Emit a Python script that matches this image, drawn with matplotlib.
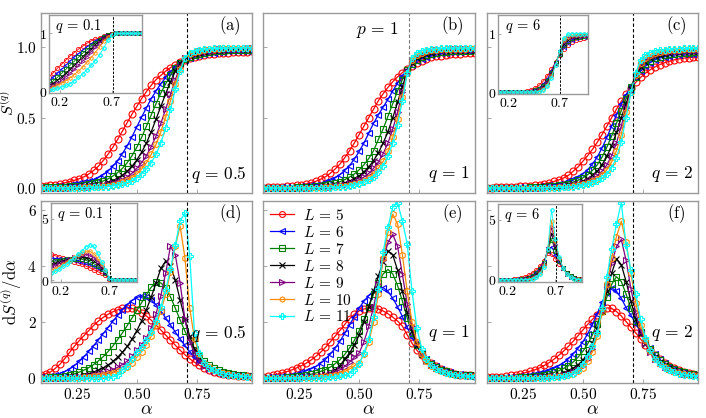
import numpy as np
import matplotlib.pyplot as plt

plt.rcParams['mathtext.fontset'] = 'cm'
plt.rcParams['font.family'] = 'serif'

# grille en alpha (panneaux principaux et encarts)
alpha = [0.10, 0.12, 0.14, 0.16, 0.18, 0.20, 0.22, 0.24, 0.26, 0.28,
         0.30, 0.32, 0.34, 0.36, 0.38, 0.40, 0.42, 0.44, 0.46, 0.48,
         0.50, 0.52, 0.54, 0.56, 0.58, 0.60, 0.62, 0.64, 0.66, 0.68,
         0.70, 0.72, 0.74, 0.76, 0.78, 0.80, 0.82, 0.84, 0.86, 0.88,
         0.90, 0.92, 0.94, 0.96, 0.98]
alpha_in = [0.10, 0.14, 0.18, 0.22, 0.26, 0.30, 0.34, 0.38, 0.42, 0.46, 0.50, 0.54,
            0.58, 0.62, 0.66, 0.70, 0.74, 0.78, 0.82, 0.86, 0.90, 0.94, 0.98]

sizes = [5, 6, 7, 8, 9, 10, 11]
colors = ['red', 'blue', 'green', 'black', 'purple', 'darkorange', 'cyan']
markers = ['o', '<', 's', 'x', '>', 'h', 'P']

# S^(q), q = 0.5  (panneau a)
s_q05 = [
    [.015, .017, .02, .025, .03, .037, .045, .055, .066, .08, .10, .125, .155, .195, .24,
     .29, .345, .405, .465, .525, .58, .635, .685, .73, .77, .80, .83, .855, .875, .895,
     .91, .92, .93, .938, .945, .95, .954, .957, .96, .962, .964, .966, .967, .968, .97],
    [.008, .009, .01, .012, .015, .018, .022, .027, .033, .04, .05, .06, .075, .095, .12,
     .155, .195, .245, .30, .365, .435, .505, .57, .635, .69, .74, .785, .825, .86, .89,
     .91, .925, .937, .946, .953, .958, .962, .965, .968, .97, .972, .973, .974, .975, .976],
    [.004, .005, .006, .007, .008, .01, .012, .015, .018, .022, .027, .033, .04, .05, .065,
     .085, .11, .14, .18, .23, .29, .36, .44, .52, .60, .675, .74, .80, .85, .89,
     .915, .932, .945, .954, .961, .966, .97, .973, .975, .977, .978, .979, .98, .981, .982],
    [.002, .002, .003, .003, .004, .005, .006, .008, .01, .012, .015, .019, .024, .03, .04,
     .052, .068, .09, .12, .155, .20, .255, .32, .40, .49, .58, .67, .755, .83, .885,
     .918, .938, .952, .962, .969, .974, .977, .98, .982, .983, .984, .985, .986, .986, .987],
    [.001, .001, .002, .002, .002, .003, .004, .005, .006, .008, .01, .012, .015, .02, .026,
     .034, .045, .06, .08, .105, .14, .18, .23, .295, .37, .46, .56, .665, .77, .86,
     .92, .945, .96, .97, .976, .98, .983, .985, .987, .988, .989, .99, .99, .991, .991],
    [0, 0, .001, .001, .001, .002, .002, .003, .004, .005, .006, .008, .01, .013, .017,
     .022, .03, .04, .055, .075, .10, .135, .18, .24, .31, .40, .505, .62, .74, .845,
     .922, .952, .966, .975, .981, .985, .988, .99, .991, .992, .993, .993, .994, .994, .994],
    [0, 0, 0, 0, .001, .001, .001, .002, .002, .003, .004, .005, .006, .008, .011,
     .015, .02, .028, .038, .052, .072, .10, .135, .18, .24, .32, .43, .56, .70, .83,
     .925, .96, .973, .981, .986, .989, .991, .992, .993, .994, .995, .995, .995, .996, .996],
]

# S^(q), q = 1  (panneau b)
s_q1 = [
    [.004, .005, .006, .008, .01, .012, .015, .019, .024, .03, .038, .048, .063, .08, .105,
     .135, .17, .215, .265, .32, .38, .44, .50, .56, .62, .67, .715, .755, .79, .82,
     .845, .87, .89, .905, .917, .927, .935, .941, .946, .95, .953, .955, .957, .958, .959],
    [.002, .002, .003, .004, .005, .006, .008, .01, .012, .015, .019, .024, .03, .042, .055,
     .072, .095, .125, .16, .205, .26, .32, .39, .46, .52, .575, .63, .69, .745, .795,
     .84, .875, .90, .918, .932, .942, .95, .956, .96, .963, .966, .968, .97, .971, .972],
    [.001, .001, .002, .002, .003, .003, .004, .005, .006, .008, .01, .013, .016, .021, .027,
     .035, .045, .06, .078, .10, .13, .165, .21, .265, .345, .42, .51, .60, .69, .77,
     .835, .88, .91, .93, .944, .953, .96, .965, .968, .971, .973, .974, .975, .976, .977],
    [0, 0, .001, .001, .001, .002, .002, .003, .004, .005, .006, .008, .01, .013, .017,
     .022, .029, .038, .05, .066, .087, .115, .15, .195, .25, .32, .40, .50, .61, .72,
     .83, .89, .92, .94, .953, .962, .968, .972, .975, .977, .979, .98, .981, .982, .983],
    [0, 0, 0, .001, .001, .001, .001, .002, .002, .003, .004, .005, .006, .008, .011,
     .014, .019, .025, .033, .044, .058, .078, .104, .14, .185, .245, .32, .42, .54, .68,
     .825, .90, .935, .953, .965, .972, .977, .98, .983, .985, .986, .987, .988, .988, .989],
    [0, 0, 0, 0, 0, .001, .001, .001, .001, .002, .002, .003, .004, .005, .007,
     .009, .012, .016, .021, .028, .038, .052, .072, .10, .14, .19, .26, .36, .49, .65,
     .82, .91, .945, .962, .972, .978, .982, .985, .987, .988, .989, .99, .99, .991, .991],
    [0, 0, 0, 0, 0, 0, 0, .001, .001, .001, .001, .002, .002, .003, .004,
     .005, .007, .01, .014, .02, .028, .04, .056, .08, .115, .16, .225, .32, .45, .62,
     .815, .925, .96, .975, .983, .987, .99, .991, .992, .993, .994, .994, .995, .995, .995],
]

# S^(q), q = 2  (panneau c)
s_q2 = [
    [.003, .004, .005, .006, .007, .008, .01, .012, .014, .017, .02, .025, .031, .038, .047,
     .058, .072, .09, .12, .15, .19, .23, .275, .325, .38, .44, .50, .56, .615, .665,
     .71, .75, .785, .815, .84, .86, .877, .89, .90, .91, .917, .922, .926, .929, .931],
    [.001, .001, .002, .002, .003, .003, .004, .005, .006, .008, .01, .012, .015, .019, .024,
     .03, .038, .048, .062, .08, .10, .13, .17, .22, .285, .36, .44, .52, .595, .66,
     .725, .785, .83, .865, .89, .91, .923, .932, .939, .944, .948, .951, .953, .955, .956],
    [0, 0, .001, .001, .001, .002, .002, .003, .004, .005, .006, .008, .01, .012, .015,
     .02, .025, .032, .042, .055, .072, .095, .125, .165, .22, .29, .37, .46, .55, .635,
     .715, .79, .845, .88, .905, .922, .934, .943, .949, .954, .957, .96, .962, .963, .964],
    [0, 0, 0, .001, .001, .001, .001, .002, .002, .003, .004, .005, .006, .008, .01,
     .013, .017, .022, .029, .038, .05, .067, .09, .12, .165, .225, .30, .395, .50, .60,
     .70, .795, .86, .895, .92, .936, .947, .955, .961, .965, .968, .97, .972, .973, .974],
    [0, 0, 0, 0, 0, .001, .001, .001, .001, .002, .002, .003, .004, .005, .007,
     .009, .012, .015, .02, .027, .036, .048, .065, .088, .12, .165, .23, .32, .44, .57,
     .69, .80, .875, .91, .932, .947, .957, .964, .969, .973, .976, .978, .979, .98, .981],
    [0, 0, 0, 0, 0, 0, 0, .001, .001, .001, .001, .002, .002, .003, .004,
     .006, .008, .01, .014, .019, .026, .035, .048, .066, .092, .13, .185, .265, .38, .54,
     .685, .805, .89, .925, .945, .958, .967, .973, .977, .98, .983, .985, .986, .987, .987],
    [0, 0, 0, 0, 0, 0, 0, 0, 0, .001, .001, .001, .002, .002, .003,
     .004, .005, .007, .01, .014, .019, .026, .036, .05, .07, .10, .145, .215, .33, .50,
     .68, .815, .91, .945, .962, .972, .979, .983, .986, .988, .99, .991, .992, .992, .993],
]

# dS^(q)/dalpha, q = 0.5  (panneau d)
ds_q05 = [
    [.12, .16, .22, .35, .5, .7, .92, 1.14, 1.34, 1.52, 1.7, 1.88, 2.04, 2.17, 2.28,
     2.37, 2.44, 2.49, 2.51, 2.49, 2.43, 2.34, 2.22, 2.07, 1.9, 1.72, 1.54, 1.36, 1.18, 1.0,
     .84, .7, .57, .46, .37, .3, .24, .2, .16, .13, .11, .09, .08, .07, .06],
    [.05, .06, .08, .12, .17, .24, .33, .45, .6, .77, .96, 1.16, 1.37, 1.59, 1.81,
     2.03, 2.24, 2.44, 2.62, 2.77, 2.88, 2.93, 2.9, 2.8, 2.62, 2.4, 2.15, 1.9, 1.65, 1.4,
     1.17, .95, .76, .6, .47, .37, .29, .23, .18, .15, .12, .1, .09, .08, .07],
    [.02, .025, .03, .04, .06, .085, .12, .16, .22, .29, .38, .49, .62, .77, .95,
     1.15, 1.38, 1.62, 1.88, 2.15, 2.42, 2.7, 2.98, 3.25, 3.42, 3.4, 3.22, 2.9, 2.5, 2.08,
     1.68, 1.32, 1.02, .78, .6, .46, .36, .28, .22, .18, .14, .12, .1, .09, .08],
    [.01, .012, .015, .02, .028, .038, .052, .07, .095, .13, .17, .22, .29, .37, .47,
     .6, .75, .93, 1.14, 1.4, 1.7, 2.05, 2.45, 2.9, 3.4, 3.92, 4.18, 4.0, 3.5, 2.8,
     2.1, 1.5, 1.05, .75, .54, .4, .31, .24, .19, .15, .12, .1, .09, .08, .07],
    [.005, .006, .008, .01, .014, .019, .026, .035, .047, .063, .085, .11, .145, .19, .245,
     .31, .39, .49, .61, .78, 1.0, 1.2, 1.45, 1.8, 2.3, 2.95, 3.75, 4.71, 4.4, 3.4,
     2.1, 1.3, .9, .62, .45, .34, .27, .21, .17, .14, .12, .1, .09, .08, .07],
    [.003, .004, .005, .006, .008, .011, .015, .02, .027, .036, .048, .064, .085, .11, .145,
     .19, .245, .31, .4, .55, .75, .95, 1.2, 1.5, 1.9, 2.4, 3.0, 3.8, 4.7, 5.43,
     4.3, 2.5, 1.4, .85, .56, .4, .3, .23, .18, .14, .11, .09, .08, .07, .06],
    [0, 0, 0, 0, 0, .001, .002, .003, .005, .007, .01, .014, .02, .028, .04,
     .06, .1, .3, .45, .7, .92, 1.12, 1.35, 1.65, 2.05, 2.55, 3.15, 3.9, 4.75, 5.6,
     5.9, 4.36, 1.6, .9, .55, .38, .28, .21, .16, .13, .1, .08, .07, .06, .05],
]

# dS^(q)/dalpha, q = 1  (panneau e)
ds_q1 = [
    [.06, .08, .11, .15, .19, .24, .3, .37, .45, .54, .65, .78, .93, 1.1, 1.3,
     1.5, 1.7, 1.92, 2.12, 2.28, 2.4, 2.47, 2.51, 2.51, 2.47, 2.4, 2.3, 2.18, 2.04, 1.86,
     1.55, 1.25, 1.0, .82, .66, .53, .43, .34, .27, .21, .16, .13, .11, .1, .09],
    [.02, .03, .04, .05, .07, .09, .12, .16, .21, .27, .34, .42, .54, .68, .86,
     1.07, 1.32, 1.6, 1.9, 2.2, 2.5, 2.75, 2.95, 3.12, 3.2, 3.23, 3.1, 2.85, 2.55, 2.2,
     1.82, 1.46, 1.15, .9, .7, .55, .43, .34, .27, .21, .17, .14, .12, .1, .09],
    [.01, .012, .015, .02, .027, .036, .048, .064, .085, .11, .145, .19, .245, .31, .4,
     .52, .66, .85, 1.08, 1.35, 1.7, 2.1, 2.55, 3.0, 3.4, 3.72, 3.88, 3.72, 3.3, 2.75,
     2.15, 1.6, 1.18, .88, .66, .5, .39, .31, .25, .2, .16, .13, .11, .1, .09],
    [.005, .006, .008, .01, .013, .017, .022, .029, .038, .05, .066, .087, .115, .15, .2,
     .3, .45, .68, .9, 1.18, 1.55, 2.0, 2.55, 3.1, 3.65, 4.15, 4.54, 4.4, 3.85, 3.1,
     2.35, 1.7, 1.2, .86, .63, .47, .36, .28, .23, .19, .15, .13, .11, .1, .09],
    [.003, .004, .005, .007, .009, .012, .016, .021, .028, .037, .05, .066, .088, .12, .16,
     .22, .3, .42, .58, .75, .9, 1.3, 1.85, 2.55, 3.35, 4.2, 4.85, 5.13, 4.7, 3.7,
     2.65, 1.85, 1.28, .9, .64, .47, .36, .28, .22, .18, .14, .12, .1, .09, .08],
    [.002, .002, .003, .004, .005, .007, .009, .012, .016, .021, .028, .037, .05, .068, .092,
     .125, .17, .24, .33, .44, .55, .85, 1.3, 2.0, 3.0, 4.3, 5.2, 5.85, 5.5, 4.4,
     3.1, 2.0, 1.3, .88, .61, .44, .33, .26, .2, .16, .13, .11, .09, .08, .07],
    [0, 0, .001, .001, .002, .002, .003, .004, .005, .007, .01, .013, .018, .025, .035,
     .05, .075, .11, .17, .3, .5, .9, 1.4, 2.2, 3.2, 4.5, 5.4, 6.1, 6.26, 5.6,
     4.8, 3.1, 1.8, 1.05, .68, .46, .33, .25, .19, .15, .12, .1, .08, .07, .06],
]

# dS^(q)/dalpha, q = 2  (panneau f)
ds_q2 = [
    [.03, .04, .05, .06, .08, .1, .12, .15, .2, .25, .3, .37, .46, .56, .68,
     .82, .97, 1.14, 1.32, 1.52, 1.72, 1.92, 2.1, 2.27, 2.42, 2.51, 2.49, 2.38, 2.22, 2.02,
     1.82, 1.62, 1.4, 1.2, 1.0, .82, .67, .54, .44, .35, .28, .22, .18, .15, .12],
    [.01, .015, .02, .025, .03, .04, .05, .065, .085, .11, .14, .18, .23, .29, .36,
     .45, .56, .7, .87, 1.07, 1.3, 1.58, 1.92, 2.3, 2.72, 3.05, 3.23, 3.1, 2.85, 2.52,
     2.25, 1.95, 1.65, 1.35, 1.08, .85, .67, .53, .42, .33, .26, .21, .17, .14, .12],
    [.005, .007, .009, .012, .015, .02, .026, .034, .044, .057, .074, .096, .125, .16, .21,
     .27, .35, .45, .58, .75, .96, 1.22, 1.55, 1.95, 2.4, 2.9, 3.35, 3.62, 3.45, 3.0,
     2.5, 2.05, 1.65, 1.3, 1.03, .82, .65, .52, .41, .33, .26, .21, .17, .14, .12],
    [.003, .004, .005, .006, .008, .01, .013, .017, .022, .029, .038, .05, .066, .087, .115,
     .15, .2, .27, .36, .48, .64, .9, 1.25, 1.75, 2.4, 3.1, 3.75, 4.26, 4.05, 3.45,
     2.75, 2.12, 1.62, 1.24, .96, .75, .59, .47, .37, .3, .24, .2, .16, .13, .11],
    [.002, .002, .003, .004, .005, .006, .008, .01, .013, .017, .022, .029, .038, .05, .066,
     .087, .115, .155, .21, .3, .45, .7, 1.05, 1.6, 2.4, 3.3, 4.1, 4.7, 4.95, 4.2,
     3.2, 2.35, 1.7, 1.25, .92, .7, .54, .42, .33, .26, .21, .17, .14, .12, .1],
    [.001, .001, .002, .002, .003, .004, .005, .006, .008, .011, .015, .02, .027, .036, .05,
     .068, .092, .125, .17, .25, .38, .6, .95, 1.5, 2.35, 3.35, 4.3, 5.05, 5.6, 4.85,
     3.75, 2.7, 1.9, 1.35, .96, .7, .52, .4, .31, .24, .19, .15, .12, .1, .08],
    [0, 0, 0, .001, .001, .002, .002, .003, .004, .006, .008, .011, .015, .021, .03,
     .045, .07, .11, .17, .3, .5, .8, 1.15, 1.6, 2.5, 3.6, 4.6, 5.5, 6.26, 4.75,
     3.85, 3.0, 2.1, 1.45, 1.0, .7, .5, .37, .28, .21, .16, .12, .1, .08, .06],
]

# encarts : S^(q) pour q = 0.1 et q = 6
s_q01_in = [
    [.25, .32, .40, .47, .54, .61, .67, .73, .78, .83, .87, .90, .93, .955, .975, .99, 1, 1, 1, 1, 1, 1, 1],
    [.18, .24, .31, .38, .45, .52, .59, .65, .71, .77, .82, .87, .91, .95, .975, .99, 1, 1, 1, 1, 1, 1, 1],
    [.13, .18, .24, .31, .38, .45, .52, .59, .66, .72, .78, .84, .89, .94, .97, .99, 1, 1, 1, 1, 1, 1, 1],
    [.10, .14, .19, .25, .31, .38, .45, .52, .60, .67, .74, .81, .87, .93, .97, .99, 1, 1, 1, 1, 1, 1, 1],
    [.07, .10, .14, .19, .25, .31, .38, .45, .52, .60, .68, .76, .84, .91, .96, .99, 1, 1, 1, 1, 1, 1, 1],
    [.04, .07, .10, .14, .18, .23, .29, .35, .42, .50, .58, .67, .77, .87, .94, .99, 1, 1, 1, 1, 1, 1, 1],
    [.02, .035, .05, .07, .10, .13, .18, .24, .30, .37, .45, .53, .63, .75, .88, .98, 1, 1, 1, 1, 1, 1, 1],
]
s_q6_in = [
    [0, 0, 0, 0, 0, .005, .01, .02, .04, .07, .12, .19, .28, .39, .52, .64, .74, .81, .86, .89, .91, .93, .94],
    [0, 0, 0, 0, 0, 0, .005, .01, .02, .04, .08, .14, .23, .36, .51, .65, .77, .85, .89, .92, .94, .95, .95],
    [0, 0, 0, 0, 0, 0, 0, .005, .01, .03, .06, .11, .20, .33, .50, .66, .80, .88, .92, .94, .95, .96, .96],
    [0, 0, 0, 0, 0, 0, 0, 0, .005, .02, .04, .09, .17, .31, .49, .67, .83, .90, .94, .95, .96, .97, .97],
    [0, 0, 0, 0, 0, 0, 0, 0, 0, .01, .03, .07, .15, .29, .48, .68, .86, .93, .95, .96, .97, .98, .98],
    [0, 0, 0, 0, 0, 0, 0, 0, 0, .005, .02, .05, .13, .27, .47, .69, .89, .95, .97, .98, .98, .99, .99],
    [0, 0, 0, 0, 0, 0, 0, 0, 0, 0, .01, .04, .11, .25, .46, .70, .92, .99, 1, 1, 1, 1, 1],
]
# encarts : dS^(q)/dalpha pour q = 0.1 et q = 6
ds_q01_in = [
    [2.1, 2.0, 1.9, 1.8, 1.7, 1.6, 1.5, 1.4, 1.28, 1.15, 1.0, .85, .7, .55, .4, .1, 0, 0, 0, 0, 0, 0, 0],
    [1.75, 1.75, 1.75, 1.75, 1.72, 1.7, 1.66, 1.6, 1.52, 1.42, 1.3, 1.15, .98, .8, .55, .15, 0, 0, 0, 0, 0, 0, 0],
    [1.5, 1.55, 1.6, 1.65, 1.7, 1.72, 1.74, 1.74, 1.7, 1.62, 1.5, 1.35, 1.15, .92, .62, .15, 0, 0, 0, 0, 0, 0, 0],
    [1.3, 1.38, 1.47, 1.55, 1.63, 1.72, 1.8, 1.86, 1.88, 1.85, 1.75, 1.57, 1.32, 1.02, .68, .15, 0, 0, 0, 0, 0, 0, 0],
    [1.1, 1.2, 1.32, 1.45, 1.58, 1.72, 1.86, 1.98, 2.07, 2.1, 2.02, 1.82, 1.52, 1.15, .72, .15, 0, 0, 0, 0, 0, 0, 0],
    [.8, .95, 1.1, 1.28, 1.46, 1.66, 1.86, 2.06, 2.24, 2.36, 2.36, 2.16, 1.78, 1.3, .8, .15, 0, 0, 0, 0, 0, 0, 0],
    [.6, .75, .92, 1.12, 1.34, 1.58, 1.84, 2.1, 2.4, 2.7, 2.9, 2.75, 2.2, 1.5, .85, .15, 0, 0, 0, 0, 0, 0, 0],
]
ds_q6_in = [
    [0, 0, .01, .02, .04, .08, .14, .24, .38, .57, .82, 1.15, 1.6, 2.2, 2.15, 1.75, 1.35, .95, .6, .35, .18, .08, .04],
    [0, 0, 0, .01, .02, .04, .08, .15, .26, .42, .66, 1.0, 1.5, 2.4, 2.75, 2.1, 1.5, .98, .58, .32, .16, .07, .03],
    [0, 0, 0, 0, .01, .02, .05, .1, .18, .32, .54, .88, 1.42, 2.5, 3.35, 2.4, 1.6, 1.0, .56, .3, .14, .06, .02],
    [0, 0, 0, 0, 0, .01, .03, .06, .12, .24, .44, .78, 1.35, 2.55, 3.85, 2.7, 1.7, 1.0, .54, .28, .13, .05, .02],
    [0, 0, 0, 0, 0, 0, .02, .04, .08, .18, .36, .68, 1.28, 2.6, 4.35, 3.0, 1.78, 1.0, .52, .26, .12, .05, .02],
    [0, 0, 0, 0, 0, 0, .01, .02, .05, .13, .28, .58, 1.2, 2.6, 4.9, 3.2, 1.85, 1.0, .5, .24, .1, .04, .01],
    [0, 0, 0, 0, 0, 0, 0, .01, .03, .09, .22, .5, 1.1, 2.6, 5.8, 3.4, 1.9, 1.0, .48, .22, .09, .03, .01],
]

alpha_c = 1 / np.sqrt(2)
gris = '#9a9a9a'


def box(x0, y0, x1, y1):
    # rectangle en pixels -> coordonnees figure
    return [x0 / 706, 1 - y1 / 418, (x1 - x0) / 706, (y1 - y0) / 418]


def style(ax, size=11, pad=3, length=3):
    for sp in ax.spines.values():
        sp.set_color(gris)
        sp.set_linewidth(1.0)
    ax.tick_params(direction='in', length=length, width=0.6, color=gris,
                   labelsize=size, pad=pad)


def courbes(ax, x, data, ms, lw, mew):
    for L, c, m, y in zip(sizes, colors, markers, data):
        assert len(y) == len(x)
        k = 0.9 if m == 'h' else 1.0
        ax.plot(x, y, color=c, marker=m, ms=ms * k, mfc='none', mew=mew, lw=lw,
                label=r'$L\,=\,%d$' % L)


fig = plt.figure(figsize=(7.06, 4.18), dpi=100)

lefts = [40.7, 263.0, 486.7]
rows = [(12.7, 193.0), (200.7, 382.5)]
main_data = [[s_q05, s_q1, s_q2], [ds_q05, ds_q1, ds_q2]]
tags = [['(a)', '(b)', '(c)'], ['(d)', '(e)', '(f)']]
qs = ['0.5', '1', '2']

axes = {}
for r, (y0, y1) in enumerate(rows):
    for c, x0 in enumerate(lefts):
        ax = fig.add_axes(box(x0, y0, x0 + 211.5, y1))
        courbes(ax, alpha, main_data[r][c], ms=5, lw=0.9, mew=0.8)
        ax.axvline(alpha_c, color='k' if c != 1 else '#777777', ls='--', lw=0.8, dashes=(3, 2))
        ax.set_xlim(0.1, 0.98)
        style(ax)
        if r == 0:
            ax.set_ylim(-0.035, 1.245)
            ax.set_yticks([0, 0.5, 1.0], ['$0.0$', '$0.5$', '$1.0$'] if c == 0 else [])
            ax.set_xticks([0.25, 0.5, 0.75], [])
            ax.text(0.975, 0.105, r'$q\,=\,%s$' % qs[c], transform=ax.transAxes,
                    ha='right', va='center', fontsize=12.5)
        else:
            ax.set_ylim(-0.15, 6.33)
            ax.set_yticks([0, 2, 4, 6], ['$0$', '$2$', '$4$', '$6$'] if c == 0 else [])
            ax.set_xticks([0.25, 0.5, 0.75], ['$0.25$', '$0.50$', '$0.75$'])
            ax.set_xlabel(r'$\alpha$', fontsize=13, labelpad=-1)
            ax.text(0.975, 0.27, r'$q\,=\,%s$' % qs[c], transform=ax.transAxes,
                    ha='right', va='center', fontsize=12.5)
        ax.text(0.895, 0.93, r'$\mathrm{%s}$' % tags[r][c], transform=ax.transAxes,
                ha='center', va='center', fontsize=12)
        axes[(r, c)] = ax

axes[(0, 0)].set_ylabel(r'$S^{(q)}$', fontsize=11.5)
axes[(0, 0)].yaxis.set_label_coords(-0.105, 0.5)
axes[(1, 0)].set_ylabel(r'$\mathrm{d}S^{(q)}/\mathrm{d}\alpha$', fontsize=12)
axes[(1, 0)].yaxis.set_label_coords(-0.078, 0.5)
axes[(0, 1)].text(0.54, 0.905, r'$p\,=\,1$', transform=axes[(0, 1)].transAxes,
                  ha='center', va='center', fontsize=12.5)

axes[(1, 1)].legend(loc='upper left', bbox_to_anchor=(0.0, 1.0), frameon=False,
                    fontsize=11, handlelength=1.6, handletextpad=0.6,
                    labelspacing=0.13, borderaxespad=0.25, borderpad=0.2,
                    markerscale=0.85)

# encarts
insets = [
    (box(49, 15, 141.7, 93), s_q01_in, '0.1', (-0.03, 1.32), [0, 1]),
    (box(498.3, 15, 588.3, 94), s_q6_in, '6', (-0.03, 1.32), [0, 1]),
    (box(51, 203, 136.5, 282), ds_q01_in, '0.1', (-0.15, 6.3), [0, 5]),
    (box(498.3, 204, 582, 281.7), ds_q6_in, '6', (-0.15, 6.3), [0, 5]),
]
for rect, data, q, ylim, yt in insets:
    axi = fig.add_axes(rect)
    axi.set_facecolor('white')
    courbes(axi, alpha_in, data, ms=3, lw=0.6, mew=0.6)
    axi.axvline(alpha_c, color='k', ls='--', lw=0.7, dashes=(2.5, 1.5))
    axi.set_xlim(0.1, 0.98)
    axi.set_ylim(*ylim)
    axi.set_xticks([0.2, 0.7], ['$0.2$', '$0.7$'])
    axi.set_yticks(yt, ['$%d$' % v for v in yt])
    style(axi, size=10, pad=1.5, length=2)
    axi.text(0.07, 0.86, r'$q\,=\,%s$' % q, transform=axi.transAxes,
             ha='left', va='center', fontsize=10.5)

fig.savefig('out.png', dpi=100)
